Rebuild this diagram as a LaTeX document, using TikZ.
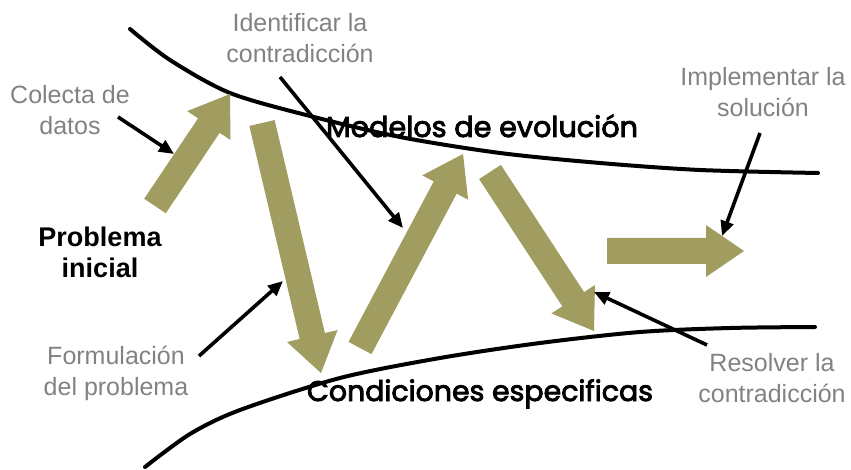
\documentclass[tikz,border=0pt]{standalone}
\usepackage{fontspec}
\setmainfont{Liberation Sans}
\newfontfamily\comicfont[FakeBold=3]{Poppins}
\usetikzlibrary{arrows.meta,calc}
\definecolor{olivec}{RGB}{161,157,96}
\definecolor{graytext}{RGB}{130,130,130}
\tikzset{
  curveline/.style={line width=4pt, line cap=round},
  pointer/.style={line width=3.6pt, -{Triangle[length=15pt,width=13pt]}},
  graylabel/.style={text=graytext, font=\fontsize{25}{31}\selectfont, align=center, anchor=base, inner sep=0pt},
  mainlabel/.style={font=\bfseries\fontsize{27}{32}\selectfont, align=center, anchor=base, inner sep=0pt},
  zonelabel/.style={anchor=base, inner sep=0pt},
}
\newcommand\blockarrow[2]{%
  \coordinate (#1-hb) at ($(#2)!38pt!(#1)$);
  \fill[olivec] ($(#1)!13pt!90:(#2)$) -- ($(#1-hb)!13pt!90:(#2)$) -- ($(#1-hb)!26pt!90:(#2)$) -- (#2)
    -- ($(#1-hb)!26pt!-90:(#2)$) -- ($(#1-hb)!13pt!-90:(#2)$) -- ($(#1)!13pt!-90:(#2)$) -- cycle;}
\begin{document}
\begin{tikzpicture}[x=1pt,y=-1pt]
\useasboundingbox (0,0) rectangle (851,470);
% curves
\draw[curveline] plot[smooth, tension=0.5] coordinates {(130,29) (170,60) (230,93) (310,116) (400,137) (500,153) (600,163) (700,170) (818,173)};
\draw[curveline] plot[smooth, tension=0.5] coordinates {(145,467) (190,434) (240,410) (340,378) (440,358) (540,343) (640,332) (730,328) (815,327)};
% block arrows
\coordinate (a1t) at (155,206); \coordinate (a1h) at (230,94);
\coordinate (a2t) at (262,123); \coordinate (a2h) at (321,373);
\coordinate (a3t) at (360,348); \coordinate (a3h) at (463,154);
\coordinate (a4t) at (490,172); \coordinate (a4h) at (594,331);
\coordinate (a5t) at (607,251); \coordinate (a5h) at (744,251);
\blockarrow{a1t}{a1h}
\blockarrow{a2t}{a2h}
\blockarrow{a3t}{a3h}
\blockarrow{a4t}{a4h}
\blockarrow{a5t}{a5h}
% labels (anchor = baseline of last line)
\node[graylabel] (identificar) at (300,63) {Identificar la\\contradicción};
\node[graylabel] (colecta) at (70,135) {Colecta de\\datos};
\node[graylabel] (implementar) at (763,117) {Implementar la\\solución};
\node[graylabel] (formulacion) at (116,395) {Formulación\\del problema};
\node[graylabel] (resolver) at (772,402) {Resolver la\\contradicción};
\node[mainlabel] (problema) at (100,278) {Problema\\inicial};
\node[zonelabel] (modelos) at (482,137) {\resizebox{312pt}{!}{\comicfont Modelos de evolución}};
\node[zonelabel] (condiciones) at (480,401) {\resizebox{346pt}{!}{\comicfont Condiciones especificas}};
% pointers
\coordinate (p1s) at (118,117); \coordinate (p1e) at (174,154);
\coordinate (p2s) at (280,77);  \coordinate (p2e) at (403,228);
\coordinate (p3s) at (760,133); \coordinate (p3e) at (722,236);
\coordinate (p4s) at (199,356); \coordinate (p4e) at (283,281);
\coordinate (p5s) at (707,345); \coordinate (p5e) at (594,292);
\draw[pointer] (p1s) -- (p1e);
\draw[pointer] (p2s) -- (p2e);
\draw[pointer] (p3s) -- (p3e);
\draw[pointer] (p4s) -- (p4e);
\draw[pointer] (p5s) -- (p5e);
\end{tikzpicture}
\end{document}
